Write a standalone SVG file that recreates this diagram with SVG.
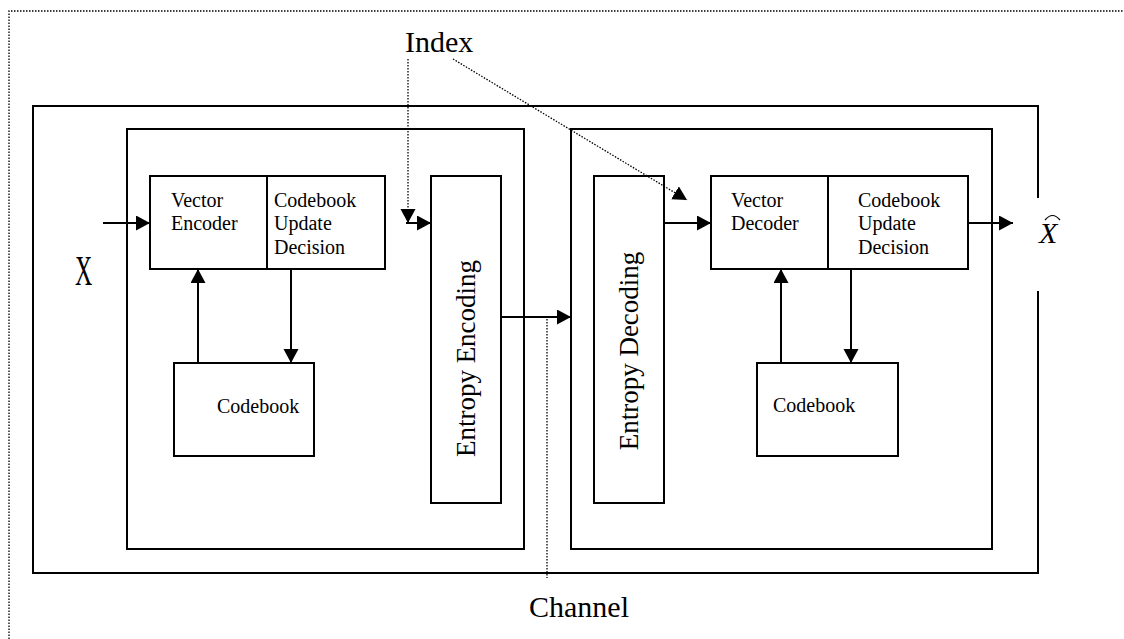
<svg xmlns="http://www.w3.org/2000/svg" width="1124" height="639" viewBox="0 0 1124 639">
<style>
.box{fill:none;stroke:#000;stroke-width:2}
.ln{fill:none;stroke:#000;stroke-width:2}
.dot{fill:none;stroke:#000;stroke-width:1.3;stroke-dasharray:1.5 1.5}
.t{font-family:"Liberation Serif","Times New Roman",serif;fill:#000}
.s{font-size:20px}
</style>
<defs>
<marker id="ah" markerUnits="userSpaceOnUse" markerWidth="15" markerHeight="16" refX="14" refY="7.5" orient="auto">
<path d="M0,0 L14,7.5 L0,15 z" fill="#000"/>
</marker>
</defs>
<rect width="1124" height="639" fill="#fff"/>
<g id="frame">
<path class="dot" d="M9,639 V11 H1124"/>
</g>
<g id="system">
<path class="box" d="M1038,198 V106 H33 V573 H1038 V291"/>
</g>
<g id="encoder">
<rect class="box" x="127" y="129" width="397" height="420"/>
</g>
<g id="decoder">
<rect class="box" x="571" y="129" width="421" height="420"/>
</g>
<g id="vector-encoder">
<rect class="box" x="150" y="176" width="117" height="93"/>
<text class="t s" x="171" y="206.5">Vector</text>
<text class="t s" x="171" y="230">Encoder</text>
</g>
<g id="cud-encoder">
<rect class="box" x="267" y="176" width="118" height="93"/>
<text class="t s" x="274" y="206.5">Codebook</text>
<text class="t s" x="274" y="230">Update</text>
<text class="t s" x="274" y="253.5">Decision</text>
</g>
<g id="codebook-encoder">
<rect class="box" x="174" y="363" width="140" height="93"/>
<text class="t s" x="217" y="413">Codebook</text>
</g>
<g id="entropy-encoding">
<rect class="box" x="431" y="176" width="70" height="327"/>
<text class="t" font-size="27" text-anchor="middle" transform="translate(475,358.5) rotate(-90)">Entropy Encoding</text>
</g>
<g id="entropy-decoding">
<rect class="box" x="594" y="176" width="70" height="327"/>
<text class="t" font-size="27" text-anchor="middle" transform="translate(638,351) rotate(-90)">Entropy Decoding</text>
</g>
<g id="vector-decoder">
<rect class="box" x="711" y="176" width="117" height="93"/>
<text class="t s" x="731" y="206.5">Vector</text>
<text class="t s" x="731" y="230">Decoder</text>
</g>
<g id="cud-decoder">
<rect class="box" x="828" y="176" width="140" height="93"/>
<text class="t s" x="858" y="206.5">Codebook</text>
<text class="t s" x="858" y="230">Update</text>
<text class="t s" x="858" y="253.5">Decision</text>
</g>
<g id="codebook-decoder">
<rect class="box" x="757" y="363" width="141" height="93"/>
<text class="t s" x="773" y="412">Codebook</text>
</g>
<g id="labels">
<text class="t" font-size="30" x="405" y="52">Index</text>
<text class="t" font-size="30" x="529" y="617">Channel</text>
<text class="t" font-size="42" transform="translate(75,285) scale(0.57,1)">X</text>
<text class="t" font-size="30" font-style="italic" x="1039" y="243">X</text>
<path d="M1045,220 Q1052.5,211 1060,220" fill="none" stroke="#000" stroke-width="1.2"/>
</g>
<g id="connectors">
<line class="ln" x1="103" y1="223" x2="150" y2="223" marker-end="url(#ah)"/>
<line class="ln" x1="198" y1="363" x2="198" y2="269" marker-end="url(#ah)"/>
<line class="ln" x1="291" y1="269" x2="291" y2="363" marker-end="url(#ah)"/>
<line class="dot" x1="408" y1="59" x2="408" y2="223" marker-end="url(#ah)"/>
<line class="ln" x1="406" y1="223" x2="431" y2="223" marker-end="url(#ah)"/>
<line class="dot" x1="453" y1="59" x2="687" y2="200" marker-end="url(#ah)"/>
<line class="ln" x1="501" y1="317" x2="571" y2="317" marker-end="url(#ah)"/>
<line class="dot" x1="547" y1="319" x2="547" y2="578"/>
<line class="ln" x1="664" y1="223" x2="711" y2="223" marker-end="url(#ah)"/>
<line class="ln" x1="968" y1="223" x2="1013" y2="223" marker-end="url(#ah)"/>
<line class="ln" x1="781" y1="363" x2="781" y2="269" marker-end="url(#ah)"/>
<line class="ln" x1="851" y1="269" x2="851" y2="363" marker-end="url(#ah)"/>
</g>
</svg>
